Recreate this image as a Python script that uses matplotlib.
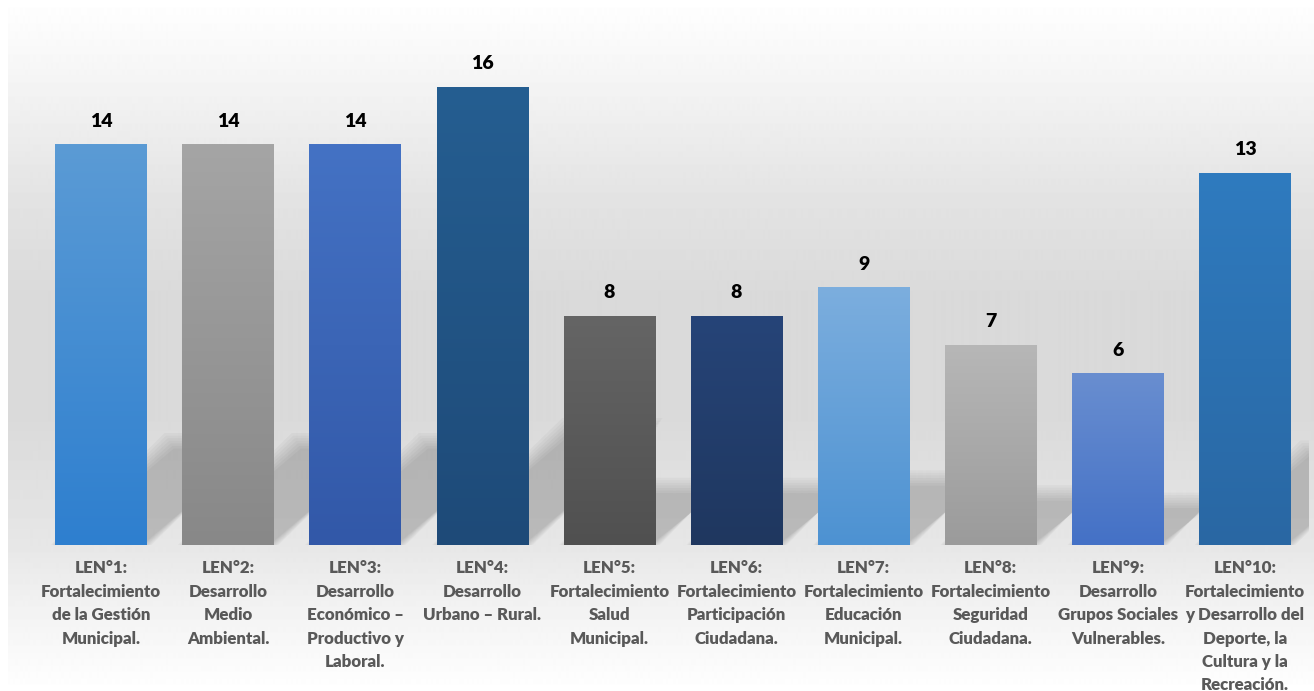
import numpy as np
import matplotlib.pyplot as plt
from matplotlib.colors import LinearSegmentedColormap, to_rgb
from matplotlib.patches import Polygon

labels = [
    "LEN°1:\nFortalecimiento\nde la Gestión\nMunicipal.",
    "LEN°2:\nDesarrollo\nMedio\nAmbiental.",
    "LEN°3:\nDesarrollo\nEconómico –\nProductivo y\nLaboral.",
    "LEN°4:\nDesarrollo\nUrbano – Rural.",
    "LEN°5:\nFortalecimiento\nSalud\nMunicipal.",
    "LEN°6:\nFortalecimiento\nParticipación\nCiudadana.",
    "LEN°7:\nFortalecimiento\nEducación\nMunicipal.",
    "LEN°8:\nFortalecimiento\nSeguridad\nCiudadana.",
    "LEN°9:\nDesarrollo\nGrupos Sociales\nVulnerables.",
    "LEN°10:\nFortalecimiento\ny Desarrollo del\nDeporte, la\nCultura y la\nRecreación.",
]
values = [14, 14, 14, 16, 8, 8, 9, 7, 6, 13]

top_colors = ["#5b9bd5", "#a5a5a5", "#4472c4", "#255e91", "#656565",
              "#264478", "#7caede", "#b7b7b7", "#698ed0", "#2f7bbf"]
bottom_colors = ["#2e7fcf", "#888888", "#3258a8", "#1e4a78", "#505050",
                 "#1f375f", "#4d92d2", "#9b9b9b", "#4471c6", "#2967a3"]

plt.rcParams['font.family'] = ['Lato', 'DejaVu Sans']

fig = plt.figure(figsize=(13.14, 6.91), dpi=100)

# background gradient (white -> light gray -> white)
bg = fig.add_axes([8 / 1314, 0, 1 - 8 / 1314, 1], zorder=0)
stops_y = [0, 60, 200, 300, 420, 545, 600, 691]
stops_v = [1.0, 0.97, 0.89, 0.852, 0.855, 0.905, 0.945, 1.0]
rows = np.interp(np.arange(691), stops_y, stops_v)
bg.imshow(np.repeat(rows[:, None], 2, axis=1), cmap='gray', vmin=0, vmax=1,
          aspect='auto', extent=(0, 1, 0, 1))
bg.axis('off')

ax = fig.add_axes([37.5 / 1314, 1 - 545 / 691, 1271 / 1314, (545 - 29.5) / 691], zorder=1)
ax.patch.set_alpha(0)

x = np.arange(len(values))
w = 0.72
bars = ax.bar(x, values, width=w, color=top_colors, zorder=3)

# soft perspective shadows (skewed up and to the right)
for xi, h in zip(x, values):
    sh = 0.26 * h
    dx = 0.064 * h
    for k in range(7):
        e = 0.012 * (k - 3)
        ev = 0.09 * (k - 3)
        poly = Polygon([(xi - w / 2 - e, 0), (xi + w / 2 + e, 0),
                        (xi + w / 2 + dx + e, sh + ev), (xi - w / 2 + dx - e, sh + ev)],
                       closed=True, facecolor='black', edgecolor='none', alpha=0.026, zorder=2)
        ax.add_patch(poly)

# gradient fill on bars
for b, c1, c2 in zip(bars, top_colors, bottom_colors):
    cmap = LinearSegmentedColormap.from_list('g', [to_rgb(c2), to_rgb(c1)])
    grad = np.linspace(0, 1, 256)[:, None]
    im = ax.imshow(grad, cmap=cmap, aspect='auto', origin='lower',
                   extent=(b.get_x(), b.get_x() + b.get_width(), 0, b.get_height()), zorder=3)
    im.set_clip_path(b)

for xi, v in zip(x, values):
    ax.annotate(str(v), (xi, v), xytext=(0, 16.5), textcoords='offset points',
                ha='center', va='center', fontsize=14, fontweight='heavy', color='black')

ax.set_xlim(-0.5, len(values) - 0.5)
ax.set_ylim(0, 18)
ax.set_xticks(x)
ax.set_xticklabels(labels, fontsize=12.2, fontweight='heavy', color='#595959', linespacing=1.57)
ax.tick_params(axis='x', length=0, pad=11)
ax.set_yticks([])
for s in ax.spines.values():
    s.set_visible(False)

fig.savefig('out.png', dpi=100)
